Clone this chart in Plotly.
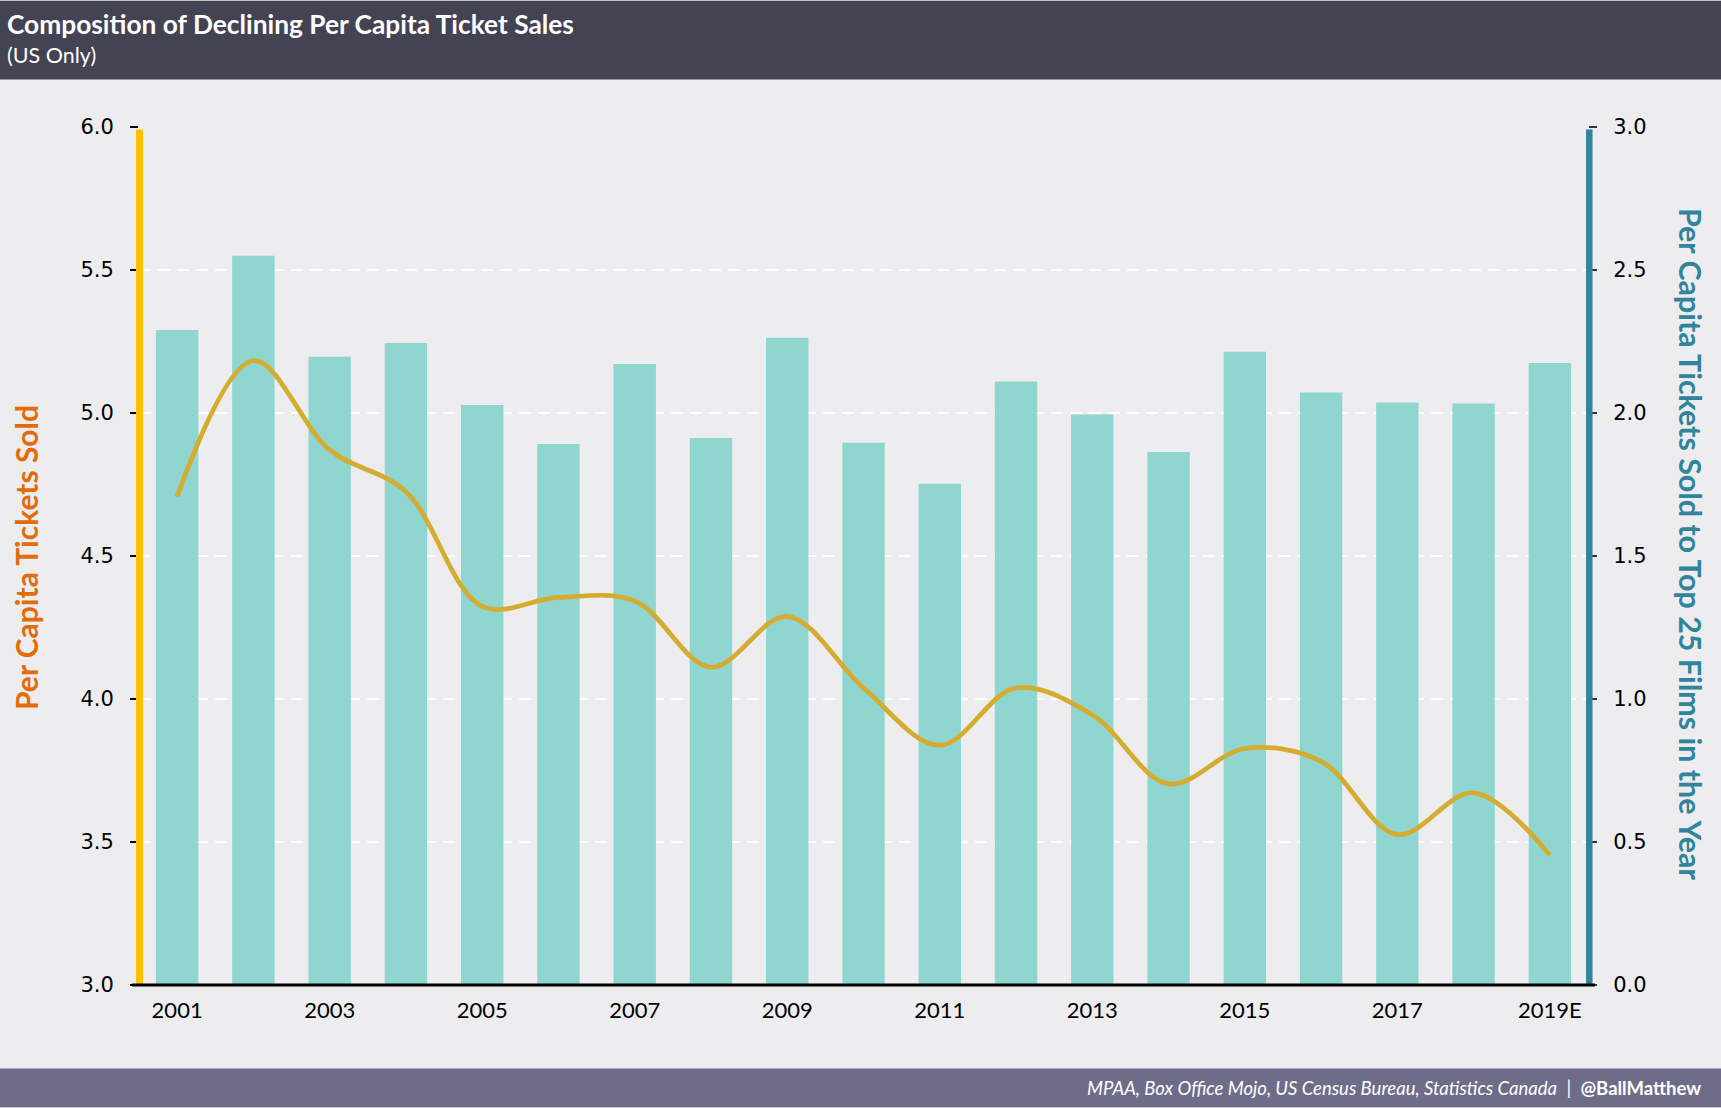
import plotly.graph_objects as go

years = ["2001", "2002", "2003", "2004", "2005", "2006", "2007", "2008", "2009", "2010",
         "2011", "2012", "2013", "2014", "2015", "2016", "2017", "2018", "2019E"]
top25_per_capita = [2.29, 2.55, 2.197, 2.245, 2.028, 1.892, 2.171, 1.913, 2.263, 1.896,
                    1.753, 2.11, 1.995, 1.864, 2.214, 2.072, 2.037, 2.033, 2.175]
per_capita_tickets = [4.708, 5.183, 4.871, 4.725, 4.324, 4.355, 4.343, 4.111, 4.289, 4.039,
                      3.838, 4.039, 3.945, 3.703, 3.827, 3.782, 3.526, 3.672, 3.454]
shown_ticks = ["2001", "2003", "2005", "2007", "2009", "2011", "2013", "2015", "2017", "2019E"]

W, H = 1721, 1108
L, R, T, B = 139, 1588, 126.5, 985.5
PW, PH = R - L, B - T


def px_x(x):
    return (x - L) / PW


def px_y(y):
    return (B - y) / PH


BG = "#EDEDEF"
fig = go.Figure()
# bars on the primary (right-side) axis, line on the overlaying (left-side) axis so it draws on top
fig.add_trace(go.Bar(x=years, y=top25_per_capita, yaxis="y", marker=dict(color="#8ED6CF", line=dict(width=0)),
                     name="Top 25"))
fig.add_trace(go.Scatter(x=years, y=per_capita_tickets, mode="lines", yaxis="y2",
                         line=dict(color="#D4AC2F", width=4.7, shape="spline", smoothing=1),
                         name="Per Capita"))

shapes = [
    dict(type="rect", xref="paper", yref="paper", x0=px_x(0), x1=px_x(W), y0=px_y(79), y1=px_y(0),
         fillcolor="#434354", line=dict(width=0), layer="below"),
    dict(type="rect", xref="paper", yref="paper", x0=px_x(0), x1=px_x(W), y0=px_y(H), y1=px_y(1069),
         fillcolor="#6D6D8A", line=dict(width=0), layer="below"),
    dict(type="line", xref="paper", yref="paper", x0=px_x(139.5), x1=px_x(139.5), y0=px_y(985), y1=px_y(129),
         line=dict(color="#FFC000", width=7)),
    dict(type="line", xref="paper", yref="paper", x0=px_x(1589.3), x1=px_x(1589.3), y0=px_y(985), y1=px_y(129),
         line=dict(color="#31849B", width=6.5)),
    dict(type="line", xref="paper", yref="paper", x0=px_x(132), x1=px_x(1595), y0=px_y(985.5), y1=px_y(985.5),
         line=dict(color="#000000", width=3)),
]

annotations = [
    dict(text="<b>Composition of Declining Per Capita Ticket Sales</b>", xref="paper", yref="paper",
         x=px_x(5), y=px_y(23), xanchor="left", yanchor="middle", showarrow=False,
         font=dict(family="Lato", size=26.3, color="#FFFFFF")),
    dict(text="(US Only)", xref="paper", yref="paper",
         x=px_x(5), y=px_y(54), xanchor="left", yanchor="middle", showarrow=False,
         font=dict(family="Lato", size=21.5, color="#FFFFFF")),
    dict(text="<b>Per Capita Tickets Sold</b>", xref="paper", yref="paper", textangle=-90,
         x=px_x(26), y=px_y(558), xanchor="center", yanchor="middle", showarrow=False,
         font=dict(family="Lato", size=30, color="#E36C0A")),
    dict(text="<b>Per Capita Tickets Sold to Top 25 Films in the Year</b>", xref="paper", yref="paper",
         textangle=90, x=px_x(1691), y=px_y(544), xanchor="center", yanchor="middle", showarrow=False,
         font=dict(family="Lato", size=30.4, color="#31849B")),
    dict(text="<i>MPAA, Box Office Mojo, US Census Bureau, Statistics Canada</i>\u00a0\u00a0|\u00a0\u00a0<b>@BallMatthew</b>",
         xref="paper", yref="paper", x=px_x(1703), y=px_y(1089), xanchor="right", yanchor="middle",
         showarrow=False, font=dict(family="Lato", size=18.5, color="#FFFFFF")),
]

fig.update_layout(
    width=W, height=H,
    margin=dict(l=L, r=W - R, t=T, b=H - B, pad=0),
    paper_bgcolor=BG, plot_bgcolor=BG,
    showlegend=False,
    bargap=0.444,
    shapes=shapes,
    annotations=annotations,
    xaxis=dict(type="category", categoryorder="array", categoryarray=years,
               tickvals=shown_ticks, ticktext=shown_ticks, showgrid=False, showline=False,
               ticks="", ticklabelstandoff=10, zeroline=False,
               tickfont=dict(family="Lato", size=22, color="#000000")),
    yaxis=dict(range=[0, 3], dtick=0.5, tickformat=".1f", side="right", showgrid=True, gridcolor="#FFFFFF",
               gridwidth=2, griddash="12px,7px", showline=False, zeroline=False,
               ticks="outside", ticklen=8, tickwidth=2, tickcolor="#333333", ticklabelstandoff=12,
               tickfont=dict(family="DejaVu Sans", size=21, color="#000000")),
    yaxis2=dict(range=[3, 6], dtick=0.5, tickformat=".1f", overlaying="y", side="left", showgrid=False,
                showline=False, zeroline=False, ticks="outside", ticklen=8, tickwidth=2,
                tickcolor="#000000", ticklabelstandoff=12,
                tickfont=dict(family="DejaVu Sans", size=21, color="#000000")),
)

fig.write_html("out.html", config={"displayModeBar": False},
               post_script="document.body.style.margin='0';document.body.style.padding='0';")
